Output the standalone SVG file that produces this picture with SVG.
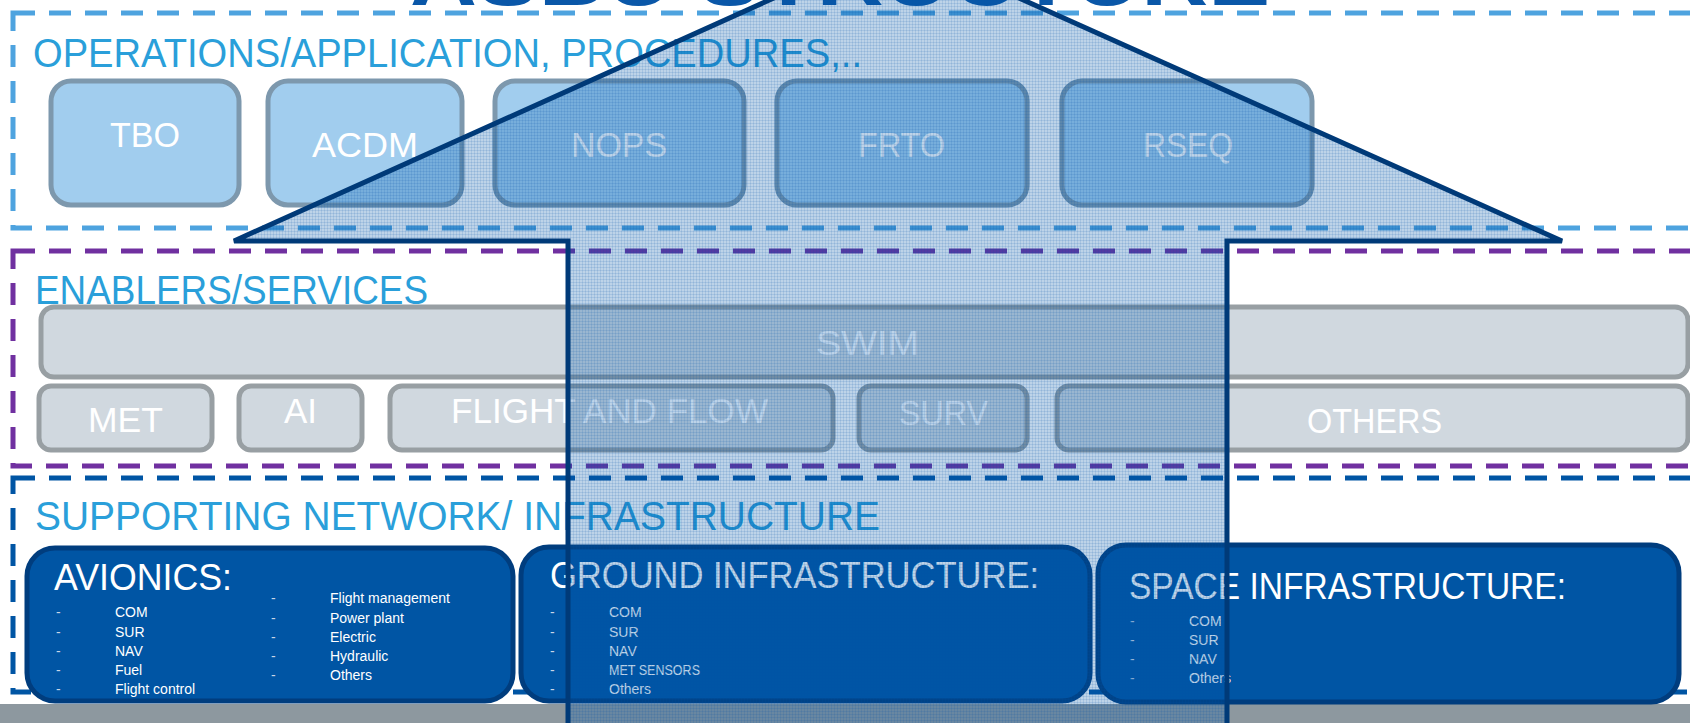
<svg xmlns="http://www.w3.org/2000/svg" width="1690" height="723" viewBox="0 0 1690 723">
<defs>
<pattern id="grid" width="3" height="3" patternUnits="userSpaceOnUse">
<rect width="3" height="3" fill="#0055A4" fill-opacity="0.26"/>
<rect width="3" height="1" fill="#0055A4" fill-opacity="0.12"/>
<rect width="1" height="3" fill="#0055A4" fill-opacity="0.12"/>
</pattern>
<style>
.sec{fill:none;stroke-width:5;stroke-dasharray:22 14}
.hd{font-family:"Liberation Sans",Arial,sans-serif;font-size:41px;fill:#2A9FDA}
.op rect{fill:#A1CDEE;stroke:#7D98AD;stroke-width:5}
.op text,.en text{font-family:"Liberation Sans",Arial,sans-serif;font-size:35px;fill:#ffffff}
.en rect{fill:#D0D8DF;stroke:#989FA3;stroke-width:5}
.inf rect{fill:#0055A4;stroke:#003D7E;stroke-width:5}
.inf .big{font-family:"Liberation Sans",Arial,sans-serif;font-size:36px;fill:#ffffff}
.inf .sm{font-family:"Liberation Sans",Arial,sans-serif;font-size:14px;fill:#ffffff}
.inf .dash{font-family:"Liberation Sans",Arial,sans-serif;font-size:14px;fill:#C9D6E8}
</style>
</defs>
<rect width="1690" height="723" fill="#ffffff"/>
<rect x="0" y="704" width="1690" height="19" fill="#8D989F"/>

<text x="410" y="5" textLength="860" lengthAdjust="spacingAndGlyphs" font-family="Liberation Sans,Arial,sans-serif" font-weight="bold" font-size="80" fill="#0A57A8">ASBU STRUCTURE</text>

<g id="sections">
<rect class="sec" x="13" y="13" width="1720" height="215" stroke="#4EA3DF"/>
<rect class="sec" x="13" y="251" width="1720" height="215" stroke="#7030A0"/>
<rect class="sec" x="13" y="478" width="1720" height="214" stroke="#0055A4"/>
<text class="hd" x="33" y="67" textLength="829" lengthAdjust="spacingAndGlyphs">OPERATIONS/APPLICATION, PROCEDURES,..</text>
<text class="hd" x="35" y="304" textLength="393" lengthAdjust="spacingAndGlyphs">ENABLERS/SERVICES</text>
<text class="hd" x="35" y="530" textLength="845" lengthAdjust="spacingAndGlyphs">SUPPORTING NETWORK/ INFRASTRUCTURE</text>
</g>

<g id="tbo" class="op"><rect x="51" y="81" width="188" height="124" rx="20"/><text x="110" y="147" textLength="70" lengthAdjust="spacingAndGlyphs">TBO</text></g>
<g id="acdm" class="op"><rect x="268" y="81" width="194" height="124" rx="20"/><text x="312" y="157" textLength="106" lengthAdjust="spacingAndGlyphs">ACDM</text></g>
<g id="nops" class="op"><rect x="495" y="81" width="249" height="124" rx="20"/><text x="571" y="157" textLength="96" lengthAdjust="spacingAndGlyphs">NOPS</text></g>
<g id="frto" class="op"><rect x="777" y="81" width="250" height="124" rx="20"/><text x="858" y="157" textLength="87" lengthAdjust="spacingAndGlyphs">FRTO</text></g>
<g id="rseq" class="op"><rect x="1062" y="81" width="250" height="124" rx="20"/><text x="1143" y="157" textLength="90" lengthAdjust="spacingAndGlyphs">RSEQ</text></g>

<g id="swim" class="en"><rect x="41" y="307" width="1647" height="70" rx="13"/><text x="816" y="355" textLength="103" lengthAdjust="spacingAndGlyphs">SWIM</text></g>
<g id="met" class="en"><rect x="39" y="386" width="173" height="64" rx="12"/><text x="88" y="432" textLength="75" lengthAdjust="spacingAndGlyphs">MET</text></g>
<g id="ai" class="en"><rect x="239" y="386" width="123" height="64" rx="12"/><text x="284" y="423" textLength="33" lengthAdjust="spacingAndGlyphs">AI</text></g>
<g id="flight" class="en"><rect x="390" y="386" width="443" height="64" rx="12"/><text x="451" y="423" textLength="317" lengthAdjust="spacingAndGlyphs">FLIGHT AND FLOW</text></g>
<g id="surv" class="en"><rect x="859" y="386" width="168" height="64" rx="12"/><text x="899" y="425" textLength="89" lengthAdjust="spacingAndGlyphs">SURV</text></g>
<g id="others" class="en"><rect x="1057" y="386" width="631" height="64" rx="12"/><text x="1307" y="433" textLength="135" lengthAdjust="spacingAndGlyphs">OTHERS</text></g>

<g id="avionics" class="inf">
<rect x="27" y="548" width="486" height="153" rx="28"/>
<text class="big" x="54" y="590" textLength="178" lengthAdjust="spacingAndGlyphs">AVIONICS:</text>
<text class="dash" x="56" y="617">-</text><text class="sm" x="115" y="617">COM</text>
<text class="dash" x="56" y="637">-</text><text class="sm" x="115" y="637">SUR</text>
<text class="dash" x="56" y="656">-</text><text class="sm" x="115" y="656">NAV</text>
<text class="dash" x="56" y="675">-</text><text class="sm" x="115" y="675">Fuel</text>
<text class="dash" x="56" y="694">-</text><text class="sm" x="115" y="694">Flight control</text>
<text class="dash" x="271" y="603">-</text><text class="sm" x="330" y="603">Flight management</text>
<text class="dash" x="271" y="623">-</text><text class="sm" x="330" y="623">Power plant</text>
<text class="dash" x="271" y="642">-</text><text class="sm" x="330" y="642">Electric</text>
<text class="dash" x="271" y="661">-</text><text class="sm" x="330" y="661">Hydraulic</text>
<text class="dash" x="271" y="680">-</text><text class="sm" x="330" y="680">Others</text>
</g>

<g id="ground" class="inf">
<rect x="521" y="547" width="569" height="154" rx="28"/>
<text class="big" x="550" y="588" textLength="489" lengthAdjust="spacingAndGlyphs">GROUND INFRASTRUCTURE:</text>
<text class="dash" x="550" y="617">-</text><text class="sm" x="609" y="617">COM</text>
<text class="dash" x="550" y="637">-</text><text class="sm" x="609" y="637">SUR</text>
<text class="dash" x="550" y="656">-</text><text class="sm" x="609" y="656">NAV</text>
<text class="dash" x="550" y="675">-</text><text class="sm" x="609" y="675" textLength="91" lengthAdjust="spacingAndGlyphs">MET SENSORS</text>
<text class="dash" x="550" y="694">-</text><text class="sm" x="609" y="694">Others</text>
</g>

<g id="space" class="inf">
<rect x="1098" y="545" width="581" height="157" rx="28"/>
<text class="big" x="1129" y="599" textLength="437" lengthAdjust="spacingAndGlyphs">SPACE INFRASTRUCTURE:</text>
<text class="dash" x="1130" y="626">-</text><text class="sm" x="1189" y="626">COM</text>
<text class="dash" x="1130" y="645">-</text><text class="sm" x="1189" y="645">SUR</text>
<text class="dash" x="1130" y="664">-</text><text class="sm" x="1189" y="664">NAV</text>
<text class="dash" x="1130" y="683">-</text><text class="sm" x="1189" y="683">Others</text>
</g>

<g id="connectors">
<path id="arrow" d="M896,-57 L1562,241 L1227,241 L1227,740 L568,740 L568,241 L234,241 Z" fill="url(#grid)" stroke="#003A78" stroke-width="5" stroke-linejoin="miter"/>
</g>
</svg>
